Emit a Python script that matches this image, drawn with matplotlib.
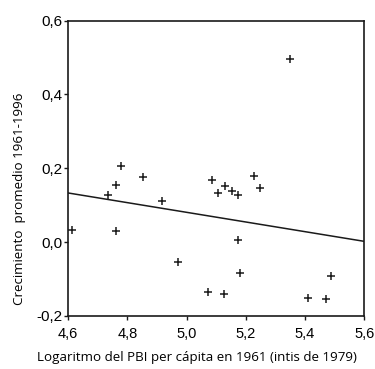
# growth vs log GDP per capita scatter, with fitted line
import numpy as np
import matplotlib
matplotlib.use('Agg')
import matplotlib.pyplot as plt

# points
log_pbi = [5.351, 4.777, 4.852, 4.760, 4.735, 4.917, 4.612, 4.761,
           5.085, 5.129, 5.106, 5.152, 5.174, 5.228, 5.249, 5.174,
           4.972, 5.179, 5.072, 5.128, 5.487, 5.409, 5.471]
growth = [0.497, 0.205, 0.176, 0.156, 0.127, 0.112, 0.034, 0.029,
          0.168, 0.152, 0.133, 0.139, 0.127, 0.179, 0.146, 0.005,
          -0.054, -0.083, -0.136, -0.140, -0.092, -0.151, -0.155]

# fitted line (ends at the plot borders)
fit_x = [4.6, 5.6]
fit_y = [0.133, 0.002]

x_ticks = [4.6, 4.8, 5.0, 5.2, 5.4, 5.6]
x_labels = ['4,6', '4,8', '5,0', '5,2', '5,4', '5,6']
y_ticks = [-0.2, 0.0, 0.2, 0.4, 0.6]
y_labels = ['-0,2', '0,0', '0,2', '0,4', '0,6']

fig = plt.figure(figsize=(3.75, 3.69), dpi=100)
ax = fig.add_axes([0.182, 0.144, 0.789, 0.800])

ax.plot(log_pbi, growth, '+', color='#1a1a1a', markersize=6, markeredgewidth=1.1)
ax.plot(fit_x, fit_y, color='#1a1a1a', linewidth=1.1)

ax.set_xlim(4.6, 5.6)
ax.set_ylim(-0.2, 0.6)
ax.set_xticks(x_ticks)
ax.set_xticklabels(x_labels, fontfamily='Liberation Sans', fontsize=10.5)
ax.set_yticks(y_ticks)
ax.set_yticklabels(y_labels, fontfamily='Liberation Sans', fontsize=11)
ax.tick_params(direction='out', length=3, width=1.0, color='#1a1a1a')
ax.tick_params(axis='y', pad=1)
ax.tick_params(axis='x', pad=5)

for s in ax.spines.values():
    s.set_linewidth(1.2)
    s.set_color('#1a1a1a')

# axis titles placed where they sit in the reference
fig.text(197 / 375, 1 - 357 / 369,
         'Logaritmo del PBI per cápita en 1961 (intis de 1979)',
         fontfamily='Open Sans', fontsize=9.6, ha='center', va='center')
fig.text(20 / 375, 1 - 199 / 369, 'Crecimiento  promedio 1961-1996',
         fontfamily='Open Sans', fontsize=9.6, rotation=90,
         ha='center', va='center')

fig.savefig('out.png', dpi=100)
